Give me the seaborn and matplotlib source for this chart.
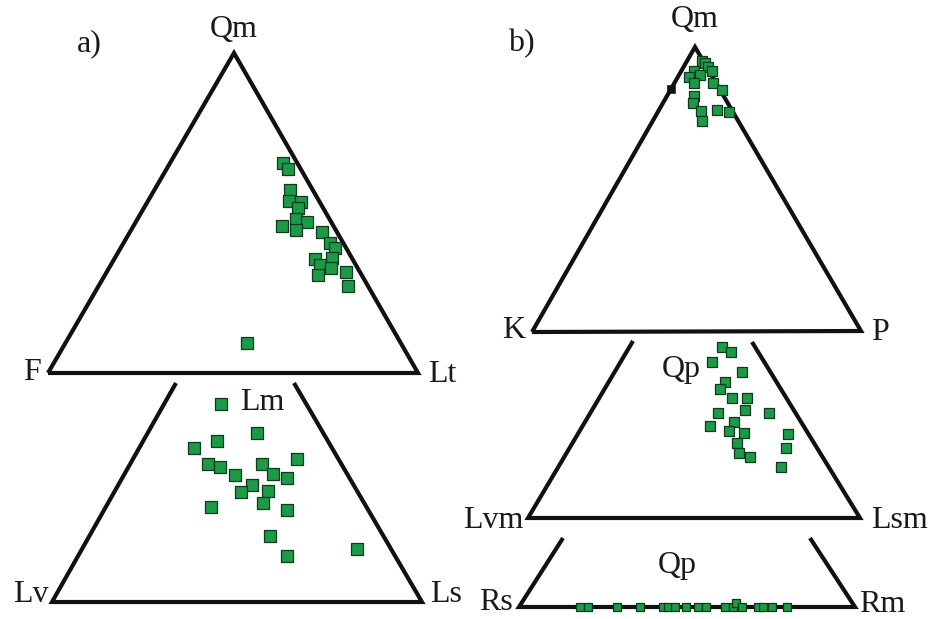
import matplotlib
matplotlib.use("Agg")
import matplotlib.pyplot as plt
import seaborn as sns
import pandas as pd

sns.set_theme(style="white")
plt.rcParams['font.family'] = ['Liberation Serif', 'DejaVu Serif']

# ---------------- data (positions, in figure pixel units) -------------
# Panel a) Qm-F-Lt
qmflt_x = [283, 288, 290, 289, 301, 298, 296, 307, 282, 296, 322, 330, 335, 332, 315, 320, 331, 318, 346, 348, 247]
qmflt_y = [163, 169, 190, 201, 202, 208, 219, 222, 226, 230, 232, 243, 248, 258, 259, 265, 268, 275, 272, 286, 343]
# Panel a) Lm-Lv-Ls
lmlvls_x = [221, 257, 217, 194, 297, 208, 220, 262, 235, 273, 287, 252, 241, 268, 263, 211, 287, 270, 287, 357]
lmlvls_y = [404, 433, 441, 448, 459, 464, 467, 464, 475, 474, 478, 485, 492, 491, 503, 507, 510, 536, 556, 549]
# Panel b) Qm-K-P
qmkp_x = [702, 705, 708, 712, 694, 700, 689, 694, 713, 722, 694, 693, 701, 717, 729, 702]
qmkp_y = [61, 63, 67, 71, 71, 75, 77, 83, 83, 90, 96, 103, 111, 110, 112, 121]
qmkp_black_x = [671]
qmkp_black_y = [89]
# Panel b) Qp-Lvm-Lsm
qplvm_x = [722, 731, 712, 742, 725, 720, 732, 747, 745, 718, 769, 734, 710, 729, 744, 788, 737, 786, 739, 750, 781]
qplvm_y = [347, 352, 362, 372, 382, 389, 398, 398, 410, 413, 413, 422, 426, 431, 433, 434, 443, 448, 453, 457, 467]
# Panel b) Qp-Rs-Rm
qprs_x = [580, 588, 617, 640, 663, 668, 675, 686, 698, 706, 725, 733, 736, 742, 758, 763, 772, 787]
qprs_y = [607, 607, 607, 607, 607, 607, 607, 607, 607, 607, 607, 607, 603, 607, 607, 607, 607, 607]

GREEN = "#1c9a48"
EDGE = "#0d3a1c"

fig = plt.figure(figsize=(9.32, 6.19), dpi=100)
ax = fig.add_axes([0, 0, 1, 1])
ax.set_xlim(0, 932)
ax.set_ylim(619, 0)
ax.axis("off")

lw = 3.0
line_kw = dict(color="#111111", lw=lw, solid_capstyle="butt", solid_joinstyle="miter", zorder=2)

# Panel a triangles
ax.plot([48, 234, 418, 48], [373, 53, 373, 373], **line_kw)
ax.plot([176, 52, 422, 294], [383, 602, 602, 383], **line_kw)
# Panel b triangles
ax.plot([532, 695, 861, 532], [332, 47, 331, 332], **line_kw)
ax.plot([633, 528, 860, 752], [341, 518, 518, 342], **line_kw)
ax.plot([563, 519, 855, 810], [538, 607, 607, 538], **line_kw)

def pts(x, y, s):
    sns.scatterplot(x=x, y=y, ax=ax, marker="s", s=s, color=GREEN,
                    edgecolor=EDGE, linewidth=0.9, zorder=3, legend=False)

pts(qmflt_x, qmflt_y, 80)
pts(lmlvls_x, lmlvls_y, 80)
pts(qmkp_x, qmkp_y, 42)
sns.scatterplot(x=qmkp_black_x, y=qmkp_black_y, ax=ax, marker="s", s=30,
                color="#111111", edgecolor="#111111", zorder=3, legend=False)
pts(qplvm_x, qplvm_y, 45)
pts(qprs_x, qprs_y, 40)

fs = 23
tk = dict(fontsize=fs, color="#1a1a1a", ha="center", va="center")
ax.text(234, 29, "Qm", **tk)
ax.text(89, 44, "a)", **tk)
ax.text(32, 373, "F", **tk)
ax.text(442, 375, "Lt", **tk)
ax.text(262, 403, "Lm", **tk)
ax.text(31, 594, "Lv", **tk)
ax.text(446, 594, "Ls", **tk)

ax.text(695, 19, "Qm", **tk)
ax.text(521, 44, "b)", **tk)
ax.text(514, 331, "K", **tk)
ax.text(880, 332, "P", **tk)
ax.text(681, 369, "Qp", **tk)
ax.text(493, 520, "Lvm", **tk)
ax.text(900, 520, "Lsm", **tk)
ax.text(677, 566, "Qp", **tk)
ax.text(496, 602, "Rs", **tk)
ax.text(882, 604, "Rm", **tk)

fig.savefig("out.png", dpi=100, facecolor="white")
